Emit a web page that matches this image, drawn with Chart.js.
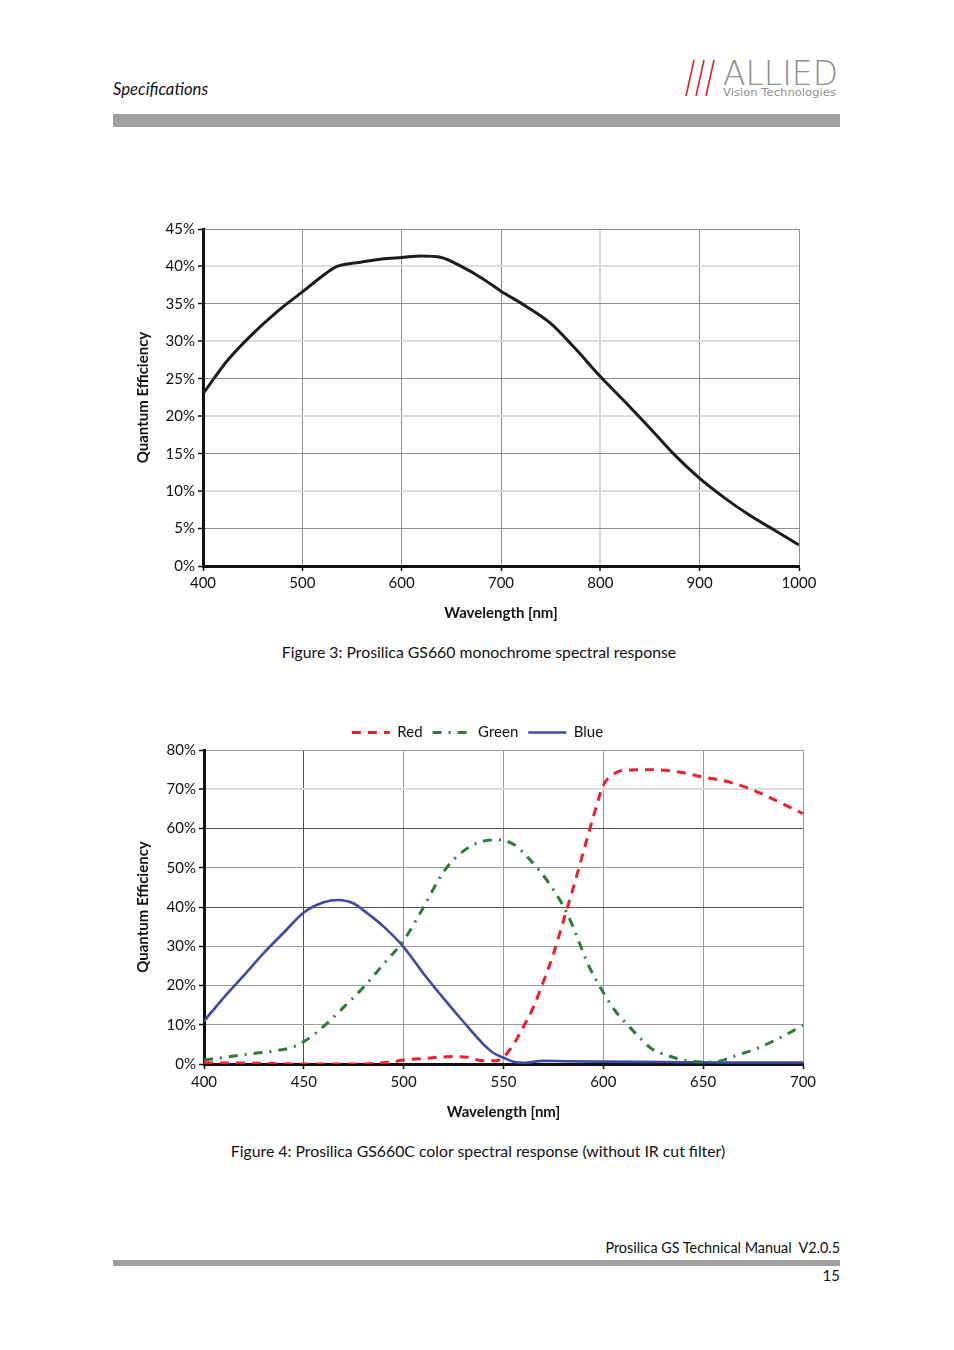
<!DOCTYPE html>
<html>
<head>
<meta charset="utf-8">
<script src="https://cdn.jsdelivr.net/npm/chart.js@4/dist/chart.umd.min.js"></script>
<style>
  html, body { margin:0; padding:0; background:#fff; }
  body { width:954px; height:1350px; position:relative; overflow:hidden; font-family: Lato, "Open Sans", sans-serif; color:#111; }
  .abs { position:absolute; }
  #hdr { left:113px; top:79px; font-size:16.7px; font-style:italic; }
  #bar1 { left:113px; top:114px; width:727px; height:13px; background:#a0a0a0; }
  #bar2 { left:113px; top:1260px; width:727px; height:6px; background:#a0a0a0; }
  #foot { right:114px; top:1239px; font-size:14.4px; }
  #pg { right:114px; top:1266px; font-size:15px; }
  .cap { width:954px; left:0; text-align:center; font-size:15.8px; }
  #cap1 { top:642px; left:2px; }
  #cap2 { top:1141px; left:1px; }
  #c1wrap { left:130px; top:215px; width:700px; height:411px; }
  #c2wrap { left:130px; top:715px; width:700px; height:410px; }
</style>
</head>
<body>
<div id="hdr" class="abs">Specifications</div>
<svg class="abs" style="left:680px;top:55px" width="165" height="50">
  <line x1="14" y1="5" x2="6" y2="41" stroke="#e0202a" stroke-width="1.6"/>
  <line x1="24" y1="5" x2="16" y2="41" stroke="#e0202a" stroke-width="1.6"/>
  <line x1="34" y1="5" x2="26" y2="41" stroke="#e0202a" stroke-width="1.6"/>
  <text x="43" y="30" font-family="DejaVu Sans" font-size="34" font-weight="200" fill="#8f8f8f" textLength="115" lengthAdjust="spacingAndGlyphs">ALLIED</text>
  <text x="43" y="41" font-family="DejaVu Sans" font-size="10.5" fill="#8f8f8f" textLength="113" lengthAdjust="spacingAndGlyphs">Vision Technologies</text>
</svg>
<div id="bar1" class="abs"></div>

<div id="c1wrap" class="abs"><canvas id="c1" width="700" height="411"></canvas></div>
<div id="cap1" class="abs cap">Figure 3: Prosilica GS660 monochrome spectral response</div>

<div id="c2wrap" class="abs"><canvas id="c2" width="700" height="410"></canvas></div>
<div id="cap2" class="abs cap">Figure 4: Prosilica GS660C color spectral response (without IR cut filter)</div>

<div id="foot" class="abs">Prosilica GS Technical Manual&nbsp; V2.0.5</div>
<div id="bar2" class="abs"></div>
<div id="pg" class="abs">15</div>

<script>
// ---- Figure 3 data (monochrome) ----
const monoWavelengths = [400,425,450,475,500,520,535,560,580,600,620,640,660,680,700,725,750,775,800,825,850,875,900,925,950,975,1000];
const monoQE          = [23.0,27.5,31.0,34.0,36.6,38.7,40.0,40.6,41.0,41.2,41.4,41.2,40.0,38.5,36.7,34.7,32.4,29.0,25.3,21.9,18.4,14.8,11.7,9.1,6.8,4.8,2.8];
const monoXTicks = [400,500,600,700,800,900,1000];
const monoYTicks = [0,5,10,15,20,25,30,35,40,45];

// ---- Figure 4 data (color) ----
const redWavelengths   = [400,425,450,475,490,500,510,525,532,540,546,550,555,560,565,570,575,580,585,590,595,600,605,610,625,640,650,660,672,685,697,700];
const redQE            = [0.3,0.2,0.0,0.0,0.3,1.0,1.4,1.9,1.7,0.8,0.8,1.8,5.0,9.5,14.5,21,28,36.5,45,54,63,71,73.8,74.8,75.0,74.2,73.1,72.2,70.4,67.5,64.5,63.8];
const greenWavelengths = [400,412,425,435,445,450,455,463,470,480,490,500,510,520,530,540,547,555,563,573,582,593,600,606,613,619,625,632,640,650,658,665,676,687,700];
const greenQE          = [1.0,1.8,2.7,3.3,4.4,5.7,7.5,11,14.5,19.6,25.5,31.5,40,49,54.3,56.8,57.1,56,52.2,45.9,38.2,24.7,18.2,13.5,9.5,6.3,3.6,2.2,1.0,0.5,0.7,1.9,3.8,6.3,9.8];
const blueWavelengths  = [400,410,420,430,440,450,460,467,475,480,490,500,510,520,530,540,545,550,555,560,570,580,600,630,660,700];
const blueQE           = [10.9,17,22.6,28.3,33.5,38.6,41.2,41.8,40.9,39.1,35,29.8,23,16.7,10.7,5,2.8,1.6,0.6,0.3,0.8,0.7,0.6,0.5,0.4,0.4];
const colorXTicks = [400,450,500,550,600,650,700];
const colorYTicks = [0,10,20,30,40,50,60,70,80];
const seriesNames = ['Red','Green','Blue'];

const FONT = 'Lato, "Open Sans", sans-serif';
const pts = (xs, ys) => xs.map((x, i) => ({x, y: ys[i]}));

function fixedTicks(list) {
  return function(scale) { scale.ticks = list.map(v => ({value: v})); };
}

// Figure 3
new Chart(document.getElementById('c1'), {
  type: 'line',
  data: { datasets: [{
    label: 'QE',
    data: pts(monoWavelengths, monoQE),
    borderColor: '#1c1c1c', borderWidth: 3, pointRadius: 0,
    cubicInterpolationMode: 'monotone', fill: false
  }]},
  options: {
    responsive: false, animation: false,
    layout: { padding: { top: 14, right: 31, left: 0, bottom: 0 } },
    plugins: { legend: { display: false }, tooltip: { enabled: false } },
    scales: {
      x: {
        type: 'linear', min: 400, max: 1000,
        afterBuildTicks: fixedTicks(monoXTicks),
        afterFit: s => { s.height = 60; },
        ticks: { color: '#111', font: { family: FONT, size: 15 }, padding: 3, maxRotation: 0, autoSkip: false, callback: v => String(v) },
        grid: {
          color: c => (c.tick && c.tick.value === 800) ? '#d6d6d6' : '#8e8e8e',
          lineWidth: c => (c.tick && c.tick.value === 800) ? 2 : 1,
          tickColor: '#111', tickLength: 5, tickWidth: 1.5
        },
        border: { color: '#111', width: 3 },
        title: { display: true, text: 'Wavelength [nm]', color: '#111', font: { family: FONT, size: 15, weight: 'bold' }, padding: 4 }
      },
      y: {
        min: 0, max: 45,
        afterBuildTicks: fixedTicks(monoYTicks),
        afterFit: s => { s.width = 73; },
        ticks: { color: '#111', font: { family: FONT, size: 15 }, padding: 3, callback: v => v + '%' },
        grid: {
          color: c => { const v = c.tick && c.tick.value; return (v % 10 === 0 && v !== 0) ? '#dcdcdc' : '#8e8e8e'; },
          lineWidth: c => { const v = c.tick && c.tick.value; return (v % 10 === 0 && v !== 0) ? 2 : 1; },
          tickColor: '#111', tickLength: 5, tickWidth: 1.5
        },
        border: { color: '#111', width: 3 },
        title: { display: true, text: 'Quantum Efficiency', color: '#111', font: { family: FONT, size: 15, weight: 'bold' }, padding: 4 }
      }
    }
  }
});

// shift the legend horizontally (keeps chart area unchanged)
const legendShift = {
  id: 'legendShift',
  afterLayout(chart, args, opts) {
    if (chart.legend) { chart.legend.left += opts.dx; chart.legend.right += opts.dx; }
  }
};

// Figure 4
new Chart(document.getElementById('c2'), {
  type: 'line',
  data: { datasets: [
    { label: seriesNames[0], data: pts(redWavelengths, redQE), borderColor: '#ee1f2b', borderWidth: 3, borderDash: [9, 7], pointRadius: 0, cubicInterpolationMode: 'monotone', fill: false },
    { label: seriesNames[1], data: pts(greenWavelengths, greenQE), borderColor: '#2a7d35', borderWidth: 3, borderDash: [9, 7, 2, 7], pointRadius: 0, cubicInterpolationMode: 'monotone', fill: false },
    { label: seriesNames[2], data: pts(blueWavelengths, blueQE), borderColor: '#3c49a8', borderWidth: 2.6, pointRadius: 0, cubicInterpolationMode: 'monotone', fill: false }
  ]},
  plugins: [legendShift],
  options: {
    responsive: false, animation: false,
    layout: { padding: { top: 0, right: 27, left: 0, bottom: 0 } },
    plugins: {
      tooltip: { enabled: false },
      legendShift: { dx: 11 },
      legend: {
        display: true, position: 'top',
        labels: {
          usePointStyle: true, pointStyle: 'line', pointStyleWidth: 38,
          color: '#111', font: { family: FONT, size: 15 }, padding: 10,
          generateLabels: chart => {
            const items = Chart.defaults.plugins.legend.labels.generateLabels(chart);
            items.forEach((it, i) => {
              const ds = chart.data.datasets[i];
              it.lineDash = ds.borderDash || [];
              it.lineWidth = ds.borderWidth;
              it.strokeStyle = ds.borderColor;
              it.pointStyle = 'line';
            });
            return items;
          }
        }
      }
    },
    scales: {
      x: {
        type: 'linear', min: 400, max: 700,
        afterBuildTicks: fixedTicks(colorXTicks),
        afterFit: s => { s.height = 61; },
        ticks: { color: '#111', font: { family: FONT, size: 15 }, padding: 4, maxRotation: 0, autoSkip: false, callback: v => String(v) },
        grid: {
          color: c => (c.tick && c.tick.value === 450) ? '#4a4a4a' : '#999999',
          tickColor: '#111', tickLength: 5, tickWidth: 1.5
        },
        border: { color: '#111', width: 3 },
        title: { display: true, text: 'Wavelength [nm]', color: '#111', font: { family: FONT, size: 15, weight: 'bold' }, padding: 4 }
      },
      y: {
        min: 0, max: 80,
        afterBuildTicks: fixedTicks(colorYTicks),
        afterFit: s => { s.width = 74; },
        ticks: { color: '#111', font: { family: FONT, size: 15 }, padding: 3, callback: v => v + '%' },
        grid: {
          color: c => { const v = c.tick && c.tick.value; if (v === 70) return '#dcdcdc'; if (v === 60 || v === 40) return '#555555'; return '#999999'; },
          lineWidth: c => { const v = c.tick && c.tick.value; return v === 70 ? 2 : 1; },
          tickColor: '#111', tickLength: 5, tickWidth: 1.5
        },
        border: { color: '#111', width: 3 },
        title: { display: true, text: 'Quantum Efficiency', color: '#111', font: { family: FONT, size: 15, weight: 'bold' }, padding: 4 }
      }
    }
  }
});
</script>
</body>
</html>
